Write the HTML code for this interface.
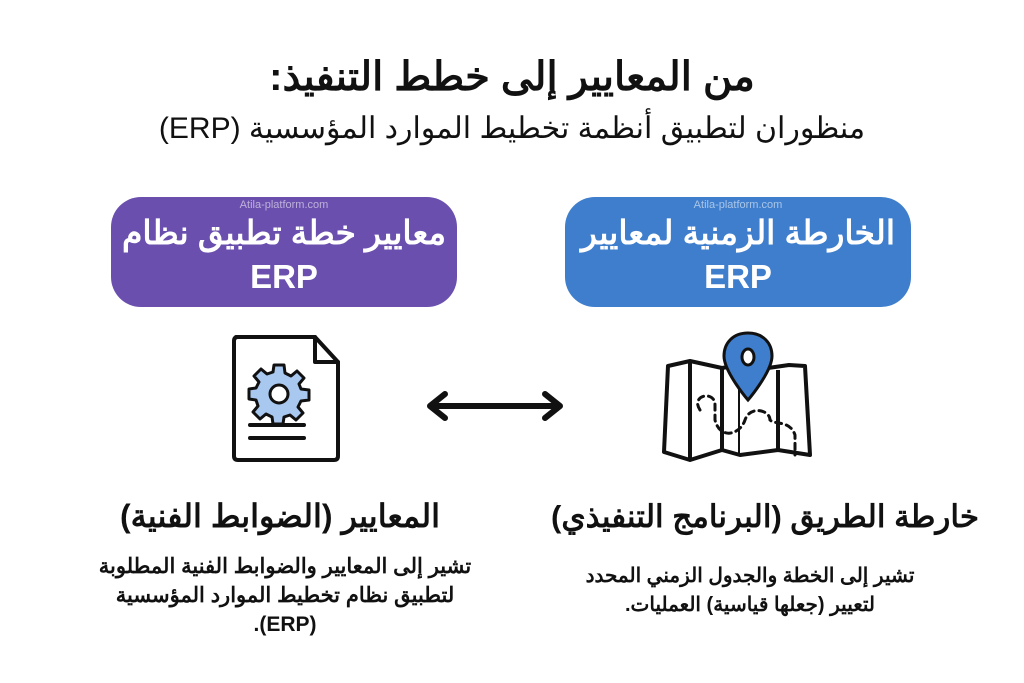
<!DOCTYPE html>
<html><head><meta charset="utf-8"><style>
body{margin:0;width:1024px;height:683px;background:#fff;position:relative;overflow:hidden;font-family:"Liberation Sans","Noto Sans CJK SC",sans-serif;direction:rtl}
.t{position:absolute;text-align:center;width:1024px;left:0;color:#111}
.box{position:absolute;top:197px;width:346px;height:110px;border-radius:30px;color:#fff;text-align:center;font-weight:bold;font-size:33px;line-height:44px}
.wm{position:absolute;top:2px;left:0;right:0;font-size:11px;line-height:12px;color:rgba(255,255,255,.55);font-weight:normal;direction:ltr}
.h{position:absolute;font-weight:bold;color:#111;text-align:center;white-space:nowrap}
.p{position:absolute;font-weight:bold;line-height:29px;color:#111;text-align:center;white-space:nowrap}
</style></head><body>
<div class="t" style="top:54px;font-size:40px;font-weight:bold">من المعايير إلى خطط التنفيذ:</div>
<div class="t" style="top:111px;font-size:30px">منظوران لتطبيق أنظمة تخطيط الموارد المؤسسية (ERP)</div>
<div class="box" style="left:111px;background:#6a4fae"><div class="wm">Atila-platform.com</div><div style="padding-top:14px">معايير خطة تطبيق نظام<br>ERP</div></div>
<div class="box" style="left:565px;background:#3f7ecc"><div class="wm">Atila-platform.com</div><div style="padding-top:14px">الخارطة الزمنية لمعايير<br>ERP</div></div>
<svg style="position:absolute;left:0;top:0" width="1024" height="683">
<g stroke="#111" stroke-width="4" fill="none" stroke-linejoin="round" stroke-linecap="round">
<path d="M236 337 H315 L338 362 V456 Q338 460 334 460 H238 Q234 460 234 456 V341 Q234 337 238 337Z" fill="#fff"/>
<path d="M315 337 V362 H338"/>
<line x1="250" y1="425" x2="304" y2="425"/>
<line x1="250" y1="438" x2="304" y2="438"/>
</g>
<g transform="translate(279,394)" fill="#a9c8f0" stroke="#111" stroke-width="3" stroke-linejoin="round">
<path d="M-5,-29 H5 L6,-21 L12,-18 L18,-23 L25,-16 L20,-10 L22,-5 L30,-4 V6 L22,7 L19,13 L24,19 L17,26 L11,21 L5,23 L4,30 H-6 L-7,23 L-13,20 L-19,25 L-26,18 L-21,12 L-23,6 L-30,5 V-5 L-23,-6 L-20,-12 L-25,-18 L-18,-25 L-12,-20 L-6,-22Z"/>
<circle r="9" fill="#fff"/>
</g>
<g stroke="#111" stroke-width="6" stroke-linecap="round" stroke-linejoin="round" fill="none">
<line x1="432" y1="406" x2="558" y2="406"/>
<path d="M445 394 L430 406 L445 418"/>
<path d="M545 394 L560 406 L545 418"/>
</g>
<g stroke="#111" stroke-width="4" stroke-linejoin="round" fill="#fff">
<path d="M668 366 L690 361 L722 368 L740 365 V455 L722 450 L690 460 L664 452Z"/>
<path d="M740 365 L768 368 L789 365 L805 366 L810 455 L778 450 L740 455"/>
<path d="M690 361 L690 460 M722 368 L722 450 M778 370 L778 450" fill="none"/>
</g>
<g stroke="#111" stroke-width="3" stroke-dasharray="6 5" fill="none" stroke-linecap="round">
<path d="M700 410 C690 395 715 390 715 405 V420 C720 440 740 435 745 420 C750 405 770 410 770 420 C775 425 790 420 795 435 V455"/>
</g>
<path d="M748 333 C733 333 724 343 724 356 C724 372 748 400 748 400 C748 400 772 372 772 356 C772 343 763 333 748 333Z" fill="#3f7ecc" stroke="#111" stroke-width="3"/>
<ellipse cx="748" cy="357" rx="6" ry="8" fill="#fff" stroke="#111" stroke-width="3"/>
</svg>
<div class="h" style="left:80px;width:400px;top:497px;font-size:32px">المعايير (الضوابط الفنية)</div>
<div class="h" style="left:520px;width:490px;top:499px;font-size:31px">خارطة الطريق (البرنامج التنفيذي)</div>
<div class="p" style="left:60px;width:450px;top:552px;font-size:21px">تشير إلى المعايير والضوابط الفنية المطلوبة<br>لتطبيق نظام تخطيط الموارد المؤسسية<br>(ERP).</div>
<div class="p" style="left:550px;width:400px;top:562px;font-size:20px">تشير إلى الخطة والجدول الزمني المحدد<br>لتعيير (جعلها قياسية) العمليات.</div>
</body></html>
